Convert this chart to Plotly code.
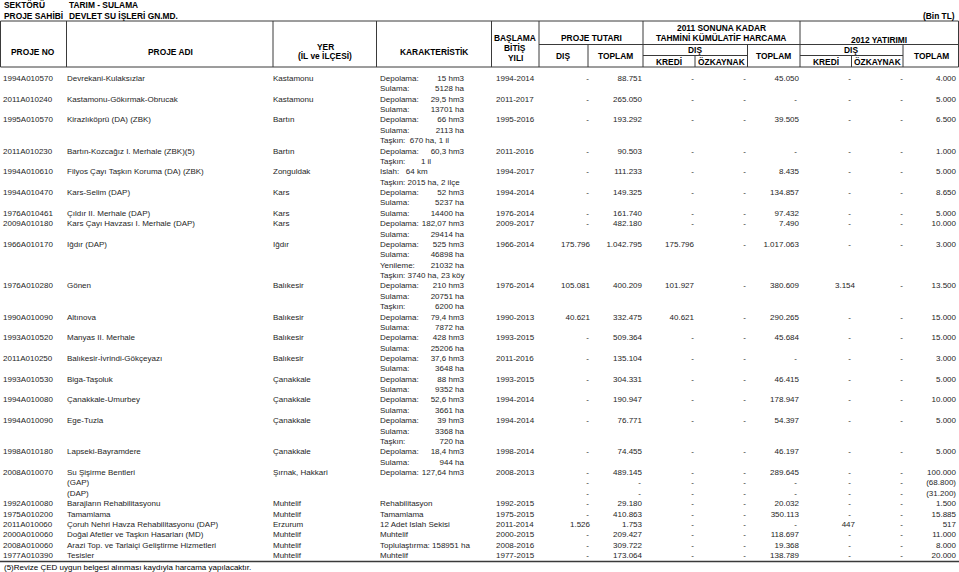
import plotly.graph_objects as go

FONT = "Liberation Sans, Arial, sans-serif"
TEXT_COLOR = "#1e1e1e"
LINE_COLOR = "#3a3a3a"
FS = 8.0      # body text
HFS = 8.4     # header text

# ---------------- data ----------------
proje_no = [
    "1994A010570", "2011A010240", "1995A010570", "2011A010230", "1994A010610",
    "1994A010470", "1976A010461", "2009A010180", "1966A010170", "1976A010280",
    "1990A010090", "1993A010520", "2011A010250", "1993A010530", "1994A010080",
    "1994A010090", "1998A010180", "2008A010070", "", "",
    "1992A010080", "1975A010200", "2011A010060", "2000A010060", "2008A010060",
    "1977A010390",
]
proje_adi = [
    "Devrekani-Kulaksızlar", "Kastamonu-Gökırmak-Obrucak", "Kirazlıköprü (DA) (ZBK)",
    "Bartın-Kozcağız I. Merhale (ZBK)(5)", "Filyos Çayı Taşkın Koruma (DA) (ZBK)",
    "Kars-Selim (DAP)", "Çıldır II. Merhale (DAP)", "Kars Çayı Havzası I. Merhale (DAP)",
    "Iğdır (DAP)", "Gönen", "Altınova", "Manyas II. Merhale", "Balıkesir-İvrindi-Gökçeyazı",
    "Biga-Taşoluk", "Çanakkale-Umurbey", "Ege-Tuzla", "Lapseki-Bayramdere",
    "Su Şişirme Bentleri", "(GAP)", "(DAP)",
    "Barajların Rehabilitasyonu", "Tamamlama", "Çoruh Nehri Havza Rehabilitasyonu (DAP)",
    "Doğal Afetler ve Taşkın Hasarları (MD)", "Arazi Top. ve Tarlaiçi Geliştirme Hizmetleri",
    "Tesisler",
]
yer = [
    "Kastamonu", "Kastamonu", "Bartın", "Bartın", "Zonguldak", "Kars", "Kars", "Kars",
    "Iğdır", "Balıkesir", "Balıkesir", "Balıkesir", "Balıkesir", "Çanakkale", "Çanakkale",
    "Çanakkale", "Çanakkale", "Şırnak, Hakkari", "", "",
    "Muhtelif", "Muhtelif", "Erzurum", "Muhtelif", "Muhtelif", "Muhtelif",
]
# each line: (label, value) ; value "" means label is the whole line
karakteristik = [
    [("Depolama:", "15 hm3"), ("Sulama:", "5128 ha")],
    [("Depolama:", "29,5 hm3"), ("Sulama:", "13701 ha")],
    [("Depolama:", "66 hm3"), ("Sulama:", "2113 ha"), ("Taşkın:\u00a0\u00a0670 ha, 1 il", "")],
    [("Depolama:", "60,3 hm3"), ("Taşkın:\u00a0\u00a0\u00a0\u00a0\u00a0\u00a0\u00a01 il", "")],
    [("Islah:\u00a0\u00a0\u00a064 km", ""), ("Taşkın: 2015 ha, 2 ilçe", "")],
    [("Depolama:", "52 hm3"), ("Sulama:", "5237 ha")],
    [("Sulama:", "14400 ha")],
    [("Depolama:", "182,07 hm3"), ("Sulama:", "29414 ha")],
    [("Depolama:", "525 hm3"), ("Sulama:", "46898 ha"), ("Yenileme:", "21032 ha"),
     ("Taşkın: 3740 ha, 23 köy", "")],
    [("Depolama:", "210 hm3"), ("Sulama:", "20751 ha"), ("Taşkın:", "6200 ha")],
    [("Depolama:", "79,4 hm3"), ("Sulama:", "7872 ha")],
    [("Depolama:", "428 hm3"), ("Sulama:", "25206 ha")],
    [("Depolama:", "37,6 hm3"), ("Sulama:", "3648 ha")],
    [("Depolama:", "88 hm3"), ("Sulama:", "9352 ha")],
    [("Depolama:", "52,6 hm3"), ("Sulama:", "3661 ha")],
    [("Depolama:", "39 hm3"), ("Sulama:", "3368 ha"), ("Taşkın:", "720 ha")],
    [("Depolama:", "18,4 hm3"), ("Sulama:", "944 ha")],
    [("Depolama:", "127,64 hm3")],
    [],
    [],
    [("Rehabilitasyon", "")],
    [("Tamamlama", "")],
    [("12 Adet Islah Sekisi", "")],
    [("Muhtelif", "")],
    [("Toplulaştırma: 158951 ha", "")],
    [("Muhtelif", "")],
]
yillar = [
    "1994-2014", "2011-2017", "1995-2016", "2011-2016", "1994-2017", "1994-2014",
    "1976-2014", "2009-2017", "1966-2014", "1976-2014", "1990-2013", "1993-2015",
    "2011-2016", "1993-2015", "1994-2014", "1994-2014", "1998-2014", "2008-2013", "", "",
    "1992-2015", "1975-2015", "2011-2014", "2000-2015", "2008-2016", "1977-2015",
]
tutar_dis = [
    "-", "-", "-", "-", "-", "-", "-", "-", "175.796", "105.081", "40.621", "-", "-",
    "-", "-", "-", "-", "-", "-", "-", "-", "-", "1.526", "-", "-", "-",
]
tutar_toplam = [
    "88.751", "265.050", "193.292", "90.503", "111.233", "149.325", "161.740", "482.180",
    "1.042.795", "400.209", "332.475", "509.364", "135.104", "304.331", "190.947",
    "76.771", "74.455", "489.145", "-", "-", "29.180", "410.863", "1.753", "209.427",
    "309.722", "173.064",
]
harcama_kredi = [
    "-", "-", "-", "-", "-", "-", "-", "-", "175.796", "101.927", "40.621", "-", "-",
    "-", "-", "-", "-", "-", "-", "-", "-", "-", "-", "-", "-", "-",
]
harcama_ozkaynak = ["-"] * 26
harcama_toplam = [
    "45.050", "-", "39.505", "-", "8.435", "134.857", "97.432", "7.490", "1.017.063",
    "380.609", "290.265", "45.684", "-", "46.415", "178.947", "54.397", "46.197",
    "289.645", "-", "-", "20.032", "350.113", "-", "118.697", "19.368", "138.789",
]
yatirim_kredi = [
    "-", "-", "-", "-", "-", "-", "-", "-", "-", "3.154", "-", "-", "-", "-", "-",
    "-", "-", "-", "-", "-", "-", "-", "447", "-", "-", "-",
]
yatirim_ozkaynak = ["-"] * 26
yatirim_toplam = [
    "4.000", "5.000", "6.500", "1.000", "5.000", "8.650", "5.000", "10.000", "3.000",
    "13.500", "15.000", "15.000", "3.000", "5.000", "10.000", "5.000", "5.000",
    "100.000", "(68.800)", "(31.200)", "1.500", "15.885", "517", "11.000", "8.000",
    "20.000",
]

# ---------------- layout of rows ----------------
Y0, LH = 79.0, 10.37
row_y = []
line = 0
for kar in karakteristik:
    row_y.append(Y0 + line * LH)
    line += max(1, len(kar))

fig = go.Figure()


def text_col(x, ys, texts, align):
    yy, tt = [], []
    for y, t in zip(ys, texts):
        if t == "":
            continue
        yy.append(y)
        tt.append(t)
    fig.add_trace(go.Scatter(
        x=[x] * len(yy), y=yy, text=tt, mode="text",
        textposition="middle right" if align == "left" else "middle left",
        textfont=dict(family=FONT, size=FS, color=TEXT_COLOR),
        hoverinfo="skip", showlegend=False, cliponaxis=False,
    ))


text_col(3, row_y, proje_no, "left")
text_col(67, row_y, proje_adi, "left")
text_col(273, row_y, yer, "left")

kar_y, kar_lbl, kar_val = [], [], []
for y, kar in zip(row_y, karakteristik):
    for i, (lbl, val) in enumerate(kar):
        kar_y.append(y + i * LH)
        kar_lbl.append(lbl)
        kar_val.append(val)
text_col(380, kar_y, kar_lbl, "left")
text_col(464, kar_y, kar_val, "right")

text_col(496, row_y, yillar, "left")

num_cols = [
    (tutar_dis, 590, 589),
    (tutar_toplam, 642, 641),
    (harcama_kredi, 694, 694),
    (harcama_ozkaynak, 746, 746),
    (harcama_toplam, 799, 797),
    (yatirim_kredi, 855, 851),
    (yatirim_ozkaynak, 903, 903),
    (yatirim_toplam, 956, 954),
]
for vals, x_num, x_dash in num_cols:
    nums = [v if v != "-" else "" for v in vals]
    dashes = [v if v == "-" else "" for v in vals]
    text_col(x_num, row_y, nums, "right")
    text_col(x_dash, row_y, dashes, "right")

# ---------------- header ----------------
ann = []


def label(x, y, t, anchor="center", bold=True, size=HFS):
    ann.append(dict(x=x, y=y, text=f"<b>{t}</b>" if bold else t, showarrow=False,
                    xanchor=anchor, yanchor="middle",
                    font=dict(family=FONT, size=size, color="#000")))


TOP, MID, SUB, BOT = 21, 44.5, 55.5, 67

label(2, 5, "SEKTÖRÜ", "left")
label(67, 5, "TARIM - SULAMA", "left")
label(2, 15.5, "PROJE SAHİBİ", "left")
label(67, 15.5, "DEVLET SU İŞLERİ GN.MD.", "left")
label(957, 16, "(Bin TL)", "right")

label(33, 52, "PROJE NO")
label(170, 52, "PROJE ADI")
label(325, 47, "YER")
label(325, 56, "(İL ve İLÇESİ)")
label(434, 52, "KARAKTERİSTİK")
label(515, 38, "BAŞLAMA")
label(515, 48, "BİTİŞ")
label(515, 58, "YILI")
label(591, 37.5, "PROJE TUTARI")
label(563, 56, "DIŞ")
label(615, 56, "TOPLAM")
label(721, 28, "2011 SONUNA KADAR")
label(721, 38, "TAHMİNİ KÜMÜLATİF HARCAMA")
label(695, 50, "DIŞ")
label(669, 61.5, "KREDİ")
label(721, 61.5, "ÖZKAYNAK")
label(773, 56, "TOPLAM")
label(879, 39.5, "2012 YATIRIMI")
label(851, 50, "DIŞ")
label(826, 61.5, "KREDİ")
label(877, 61.5, "ÖZKAYNAK")
label(931, 56, "TOPLAM")

label(2, 567, "(5)Revize ÇED uygun belgesi alınması kaydıyla harcama yapılacaktır.",
      "left", bold=False, size=FS)

shapes = []


def seg(x0, y0, x1, y1, w=1):
    shapes.append(dict(type="line", x0=x0, y0=y0, x1=x1, y1=y1,
                       line=dict(color=LINE_COLOR, width=w)))


seg(0.5, TOP, 958.5, TOP)
seg(0.5, BOT, 958.5, BOT)
for x in [0.5, 66.5, 273, 376.5, 491.5, 539, 643, 800, 958.5]:
    seg(x, TOP, x, BOT)
seg(539, MID, 958.5, MID)
for x in [588, 747.5, 903]:
    seg(x, MID, x, BOT)
seg(643, SUB, 747.5, SUB)
seg(800, SUB, 903, SUB)
seg(695, SUB, 695, BOT)
seg(851.5, SUB, 851.5, BOT)
seg(0, 561.5, 959, 561.5, 1.6)

fig.update_layout(
    width=959, height=572,
    margin=dict(l=0, r=0, t=0, b=0),
    paper_bgcolor="white", plot_bgcolor="white",
    xaxis=dict(range=[0, 959], visible=False, fixedrange=True),
    yaxis=dict(range=[572, 0], visible=False, fixedrange=True),
    annotations=ann, shapes=shapes,
)

fig.write_html(
    "out.html",
    config={"displayModeBar": False},
    post_script="document.body.style.margin='0';document.body.style.overflow='hidden';",
)
